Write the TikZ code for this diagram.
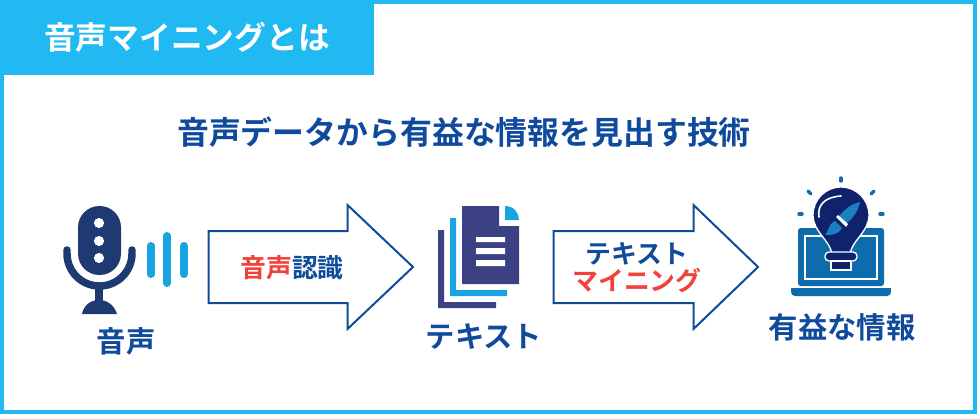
\documentclass[tikz,border=0pt]{standalone}
\usepackage{fontspec}
\usetikzlibrary{positioning}
\setmainfont{Noto Sans CJK JP}[BoldFont={* Bold}]
\definecolor{skyfill}{HTML}{20B9F2}
\definecolor{navytext}{HTML}{0F4A9C}
\definecolor{micblue}{HTML}{1F3A72}
\definecolor{wavecyan}{HTML}{17A4E0}
\definecolor{docblue}{HTML}{3C4184}
\definecolor{lampnavy}{HTML}{10226C}
\definecolor{lapblue}{HTML}{0F6CAC}
\definecolor{brushblue}{HTML}{1B7FC4}
\definecolor{redtext}{HTML}{F2403A}
\tikzset{
  banner/.style    = {font=\bfseries\fontsize{23.8}{26}\selectfont, text=white},
  heading/.style   = {font=\bfseries\fontsize{23.9}{26}\selectfont, text=navytext},
  caption/.style   = {font=\bfseries\fontsize{22}{24}\selectfont, text=navytext},
  arrowtext/.style = {font=\bfseries\fontsize{19.4}{22}\selectfont, text=navytext, inner sep=0pt},
  blockarrow/.style = {draw=navytext, line width=1.5pt, fill=white, line join=miter},
  wave/.style      = {line width=6pt, line cap=round, draw=wavecyan},
  ray/.style       = {line width=2.6pt, line cap=round, draw=lapblue},
  micline/.style   = {draw=micblue, line width=5.6pt, line cap=round},
  lampline/.style  = {fill=lampnavy, draw=white, line width=1pt}
}
\begin{document}
\begin{tikzpicture}[x=0.75pt,y=-0.75pt]
  \useasboundingbox (0,0) rectangle (980,418);
  % frame and banner
  \fill[white] (0,0) rectangle (980,418);
  \draw[skyfill,line width=3pt] (2,2) rectangle (975,412);
  \fill[skyfill] (0,0) rectangle (374,75);
  \node[banner] (title) at (187,37) {音声マイニングとは};
  \node[heading] (lead) at (464,132) {音声データから有益な情報を見出す技術};
  % microphone
  \fill[micblue,rounded corners=16pt] (78,206) rectangle (121,275);
  \fill[white] (99,223) circle (3.8pt) (99,241) circle (3.8pt) (99,258) circle (3.8pt);
  \draw[micline] (67,250) -- (67,253.5) arc (180:0:32.5) -- (132,250);
  \draw[micblue,line width=6pt] (99,286) -- (99,304);
  \fill[micblue] (82,314) .. controls (84,304) and (92,300) .. (99,300) .. controls (106,300) and (114,304) .. (117,314) -- cycle;
  \draw[wave] (151,246) -- (151,274);
  \draw[wave] (167,236) -- (167,283);
  \draw[wave] (184,246) -- (184,274);
  \node[caption] (voice) at (126,341) {音声};
  % first arrow
  \draw[blockarrow] (208.5,231) -- (347.5,231) -- (347.5,205) -- (413,267) -- (347.5,329) -- (347.5,303) -- (208.5,303) -- cycle;
  \node[arrowtext] (recog) at (292,268) {\textcolor{redtext}{音声}認識};
  % documents
  \fill[docblue] (438,230) rectangle (444,308) (438,302) rectangle (496,308);
  \fill[wavecyan] (450,218) rectangle (456,296) (450,290) rectangle (507,296);
  \fill[docblue] (462,206) -- (499,206) -- (499,226) -- (519,226) -- (519,284) -- (462,284) -- cycle;
  \fill[wavecyan] (505,206) .. controls (514,206) and (519,213) .. (519,220) -- (505,220) -- cycle;
  \fill[white] (476,237) rectangle (505,242) (476,248) rectangle (505,254) (476,260) rectangle (505,266);
  \node[caption] (text) at (484,337) {テキスト};
  % second arrow
  \draw[blockarrow] (553.5,231) -- (693.5,231) -- (693.5,205) -- (758,267) -- (693.5,329) -- (693.5,303) -- (553.5,303) -- cycle;
  \node[arrowtext] (mining) at (637,254) {テキスト};
  \node[arrowtext,text=redtext,below=2pt of mining] (miningred) {マイニング};
  % lamp and laptop
  \fill[lapblue,rounded corners=2pt] (798,228) rectangle (884,286);
  \draw[white,line width=1.2pt] (805,236) rectangle (877,279);
  \fill[lapblue,rounded corners=3pt] (791,288) rectangle (891,296);
  \fill[lapblue] (791,288) rectangle (891,291);
  \draw[lampline] (832,254) .. controls (830,240) and (813,232) .. (813,215) arc (180:360:28) .. controls (869,232) and (852,240) .. (850,254) -- cycle;
  \draw[lampline,rounded corners=3pt] (825,252) rectangle (857,261);
  \draw[lampline] (831,261) rectangle (851,270);
  \draw[white,line width=1.2pt,line cap=round] (819,217) .. controls (817,205) and (825,197) .. (841,196);
  \fill[brushblue] (860,202) .. controls (850,204) and (842,212) .. (838,218) -- (845,224) .. controls (851,221) and (858,212) .. (860,202) -- cycle;
  \fill[white] (836,217) -- (838,215) -- (848,224) -- (846,227) -- cycle;
  \fill[brushblue] (835,221) -- (842,228) .. controls (838,235) and (831,235) .. (825,235) .. controls (829,232) and (827,225) .. (835,221) -- cycle;
  \draw[ray] (841,178) -- (841,181);
  \draw[ray] (808,191) -- (811,194);
  \draw[ray] (874,191) -- (871,194);
  \draw[ray] (799,214) -- (802,214);
  \draw[ray] (880,214) -- (883,214);
  \node[caption] (useful) at (842,327) {有益な情報};
\end{tikzpicture}
\end{document}
